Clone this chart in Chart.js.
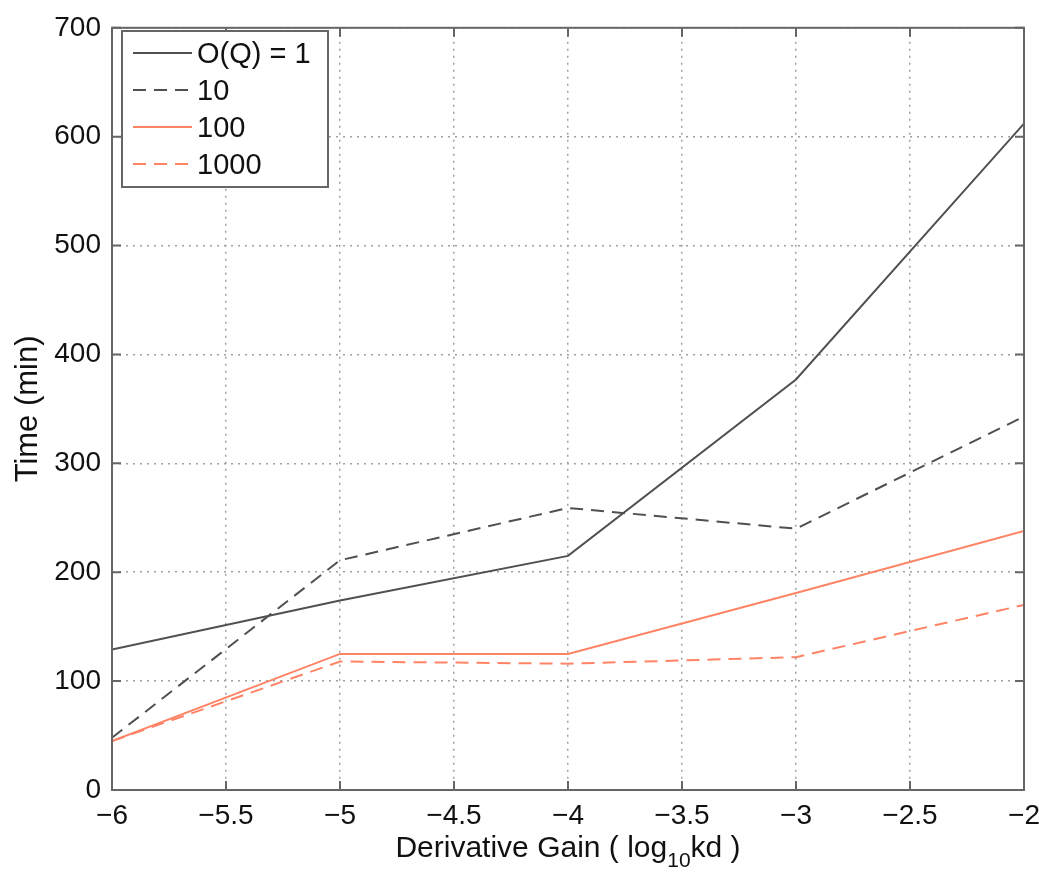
<!DOCTYPE html>
<html>
<head>
<meta charset="utf-8">
<script src="https://cdn.jsdelivr.net/npm/chart.js@4"></script>
<style>
  html, body { margin: 0; padding: 0; background: #fff; }
  #wrap { width: 1039px; height: 880px; }
</style>
</head>
<body>
<div id="wrap"><canvas id="chart" width="1039" height="880"></canvas></div>
<script>
const gains = [-6, -5, -4, -3, -2];
const q1 = [129, 174, 215, 377, 612];
const q10 = [48, 211, 259, 240, 343];
const q100 = [45, 125, 125, 181, 238];
const q1000 = [45, 118, 116, 122, 170];
const seriesLabels = ["O(Q) = 1", "10", "100", "1000"];
const xTicks = [-6, -5.5, -5, -4.5, -4, -3.5, -3, -2.5, -2];
const yTicks = [0, 100, 200, 300, 400, 500, 600, 700];

const FONT = "'Liberation Sans', Arial, sans-serif";
const gray = "#505050";
const salmon = "#ff8466";

const pts = arr => gains.map((g, i) => ({ x: g, y: arr[i] }));
const minus = v => String(v).replace("-", "\u2212");

// MATLAB-ish box, inward ticks, legend and axis titles
const decor = {
  id: "decor",
  afterDraw(chart) {
    const { ctx, chartArea: a, scales } = chart;
    ctx.save();
    ctx.strokeStyle = "#666";
    ctx.lineWidth = 2;
    ctx.strokeRect(a.left, a.top, a.right - a.left, a.bottom - a.top);
    ctx.beginPath();
    xTicks.forEach(v => {
      const px = scales.x.getPixelForValue(v);
      ctx.moveTo(px, a.bottom); ctx.lineTo(px, a.bottom - 9);
      ctx.moveTo(px, a.top); ctx.lineTo(px, a.top + 9);
    });
    yTicks.forEach(v => {
      const py = scales.y.getPixelForValue(v);
      ctx.moveTo(a.left, py); ctx.lineTo(a.left + 9, py);
      ctx.moveTo(a.right, py); ctx.lineTo(a.right - 9, py);
    });
    ctx.stroke();

    // legend
    const lx = 122, ly = 31, lw = 206, lh = 156;
    ctx.fillStyle = "#fff";
    ctx.fillRect(lx, ly, lw, lh);
    ctx.strokeStyle = "#666";
    ctx.lineWidth = 2;
    ctx.strokeRect(lx, ly, lw, lh);
    ctx.font = "29px " + FONT;
    ctx.textBaseline = "middle";
    chart.data.datasets.forEach((ds, i) => {
      const y = ly + 22 + i * 37;
      ctx.strokeStyle = ds.borderColor;
      ctx.lineWidth = 2;
      ctx.setLineDash(ds.borderDash || []);
      ctx.beginPath();
      ctx.moveTo(lx + 11, y); ctx.lineTo(lx + 70, y);
      ctx.stroke();
      ctx.setLineDash([]);
      ctx.fillStyle = "#111";
      ctx.textAlign = "left";
      ctx.fillText(ds.label, lx + 75, y + 2);
    });

    // x title with subscript
    ctx.fillStyle = "#111";
    ctx.textBaseline = "alphabetic";
    ctx.textAlign = "left";
    const p1 = "Derivative Gain ( log", sub = "10", p2 = "kd )";
    ctx.font = "30px " + FONT;
    const w1 = ctx.measureText(p1).width, w3 = ctx.measureText(p2).width;
    ctx.font = "21px " + FONT;
    const w2 = ctx.measureText(sub).width;
    const cx = (a.left + a.right) / 2;
    const x0 = cx - (w1 + w2 + w3) / 2;
    const base = 857;
    ctx.font = "30px " + FONT;
    ctx.fillText(p1, x0, base);
    ctx.font = "21px " + FONT;
    ctx.fillText(sub, x0 + w1, base + 10);
    ctx.font = "30px " + FONT;
    ctx.fillText(p2, x0 + w1 + w2, base);

    // y title
    ctx.translate(28, (a.top + a.bottom) / 2);
    ctx.rotate(-Math.PI / 2);
    ctx.textAlign = "center";
    ctx.textBaseline = "middle";
    ctx.font = "31px " + FONT;
    ctx.fillText("Time (min)", 0, 0);
    ctx.restore();
  }
};

new Chart(document.getElementById("chart"), {
  type: "line",
  data: {
    datasets: [
      { label: seriesLabels[0], data: pts(q1), borderColor: gray, borderWidth: 2 },
      { label: seriesLabels[1], data: pts(q10), borderColor: gray, borderWidth: 2, borderDash: [13, 8] },
      { label: seriesLabels[2], data: pts(q100), borderColor: salmon, borderWidth: 2 },
      { label: seriesLabels[3], data: pts(q1000), borderColor: salmon, borderWidth: 2, borderDash: [13, 8] }
    ]
  },
  options: {
    responsive: false,
    animation: false,
    layout: { padding: { top: 21, right: 15, left: 0, bottom: 0 } },
    elements: { point: { radius: 0 }, line: { tension: 0 } },
    plugins: { legend: { display: false }, tooltip: { enabled: false } },
    scales: {
      x: {
        type: "linear", min: -6, max: -2,
        afterBuildTicks: s => { s.ticks = xTicks.map(v => ({ value: v })); },
        afterFit: s => { s.height = 90; s.paddingRight = 0; s.paddingLeft = 0; },
        ticks: { color: "#111", font: { family: FONT, size: 28 }, padding: 9, maxRotation: 0,
                 callback: v => minus(v) },
        grid: { color: "#a0a0a0", lineWidth: 1.5, drawTicks: false },
        border: { display: false, dash: [2, 5] }
      },
      y: {
        min: 0, max: 700,
        afterBuildTicks: s => { s.ticks = yTicks.map(v => ({ value: v })); },
        afterFit: s => { s.width = 112; },
        ticks: { color: "#111", font: { family: FONT, size: 28 }, padding: 11 },
        grid: { color: "#a0a0a0", lineWidth: 1.5, drawTicks: false },
        border: { display: false, dash: [2, 5] }
      }
    }
  },
  plugins: [decor]
});
</script>
</body>
</html>
